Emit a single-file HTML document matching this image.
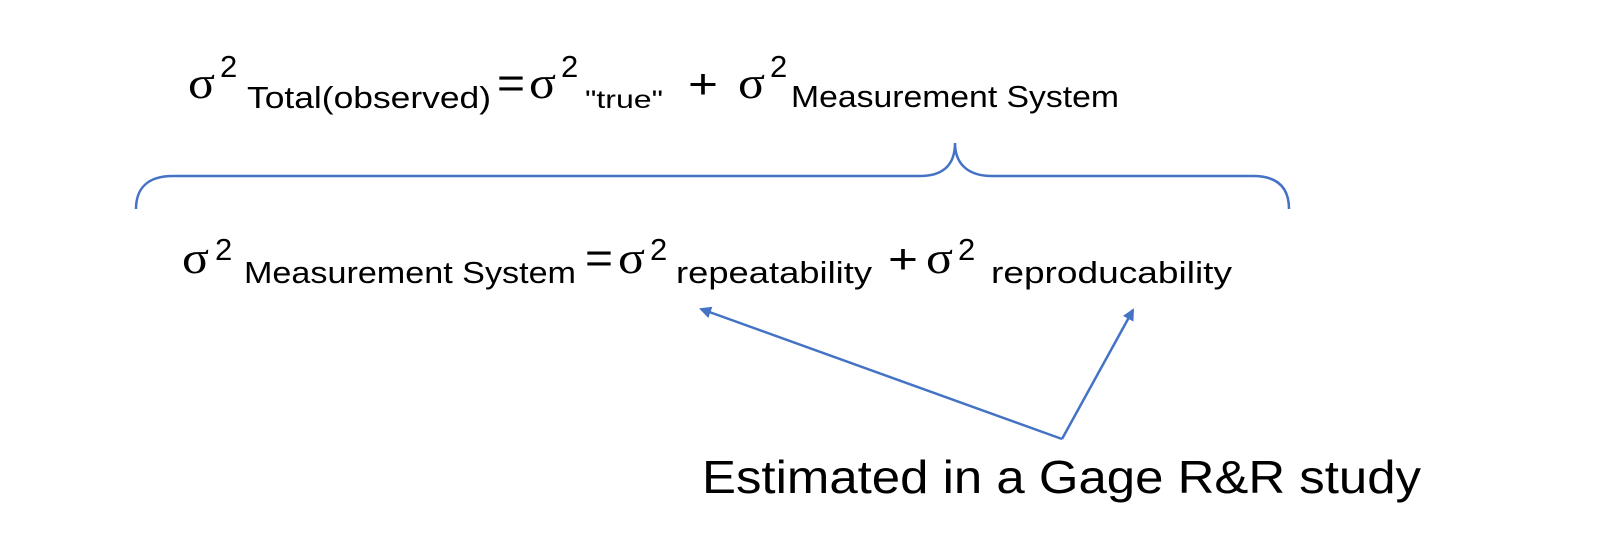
<!DOCTYPE html>
<html><head><meta charset="utf-8"><style>
html,body{margin:0;padding:0;background:#fff;}
svg{display:block;}
text{font-family:"Liberation Sans",sans-serif;fill:#000;}
.s{font-family:"Liberation Serif",serif;font-size:46px;}
.p{font-size:31px;}
.b{font-size:31px;}
</style></head><body>
<svg width="1600" height="535" viewBox="0 0 1600 535" xmlns="http://www.w3.org/2000/svg">
<defs><marker id="ah" markerWidth="12" markerHeight="12" refX="10" refY="6" orient="auto" markerUnits="userSpaceOnUse"><path d="M0,0 L12,6 L0,12 z" fill="#4472C4"/></marker></defs>
<!-- line 1 -->
<text class="s" x="188" y="98" textLength="27" lengthAdjust="spacingAndGlyphs">σ</text>
<text class="p" x="220" y="77">2</text>
<text class="b" x="247" y="108" textLength="244" lengthAdjust="spacingAndGlyphs">Total(observed)</text>
<text x="497" y="98" font-size="44" textLength="28" lengthAdjust="spacingAndGlyphs">=</text>
<text class="s" x="529" y="98" textLength="27" lengthAdjust="spacingAndGlyphs">σ</text>
<text class="p" x="561" y="77">2</text>
<text x="585" y="108" font-size="25" textLength="78" lengthAdjust="spacingAndGlyphs">"true"</text>
<text x="688" y="98" font-size="42" textLength="30" lengthAdjust="spacingAndGlyphs">+</text>
<text class="s" x="738" y="98" textLength="27" lengthAdjust="spacingAndGlyphs">σ</text>
<text class="p" x="770" y="77">2</text>
<text class="b" x="791" y="107" textLength="328" lengthAdjust="spacingAndGlyphs">Measurement System</text>
<!-- brace -->
<path d="M136,209 C136,188 148,176 173,176 L920,176 C945,176 955,163 955,143 C955,163 967,176 992,176 L1253,176 C1278,176 1289,188 1289,209" fill="none" stroke="#4472C4" stroke-width="2.5"/>
<!-- line 2 -->
<text class="s" x="182" y="273" textLength="27" lengthAdjust="spacingAndGlyphs">σ</text>
<text class="p" x="215" y="260">2</text>
<text class="b" x="244" y="283" textLength="332" lengthAdjust="spacingAndGlyphs">Measurement System</text>
<text x="585" y="273" font-size="44" textLength="28" lengthAdjust="spacingAndGlyphs">=</text>
<text class="s" x="618" y="273" textLength="27" lengthAdjust="spacingAndGlyphs">σ</text>
<text class="p" x="650" y="260">2</text>
<text class="b" x="676" y="283" textLength="196" lengthAdjust="spacingAndGlyphs">repeatability</text>
<text x="888" y="273" font-size="42" textLength="30" lengthAdjust="spacingAndGlyphs">+</text>
<text class="s" x="926" y="273" textLength="27" lengthAdjust="spacingAndGlyphs">σ</text>
<text class="p" x="958" y="260">2</text>
<text class="b" x="991" y="283" textLength="241" lengthAdjust="spacingAndGlyphs">reproducability</text>
<!-- arrows -->
<line x1="1062" y1="439" x2="701" y2="309" stroke="#4472C4" stroke-width="2.5" marker-end="url(#ah)"/>
<line x1="1062" y1="439" x2="1133" y2="310" stroke="#4472C4" stroke-width="2.5" marker-end="url(#ah)"/>
<text x="702" y="493" font-size="46" textLength="719" lengthAdjust="spacingAndGlyphs">Estimated in a Gage R&amp;R study</text>
</svg>
</body></html>
